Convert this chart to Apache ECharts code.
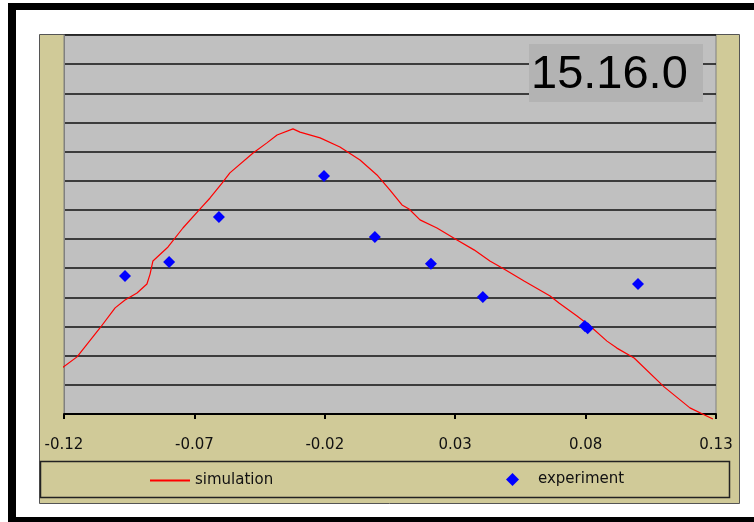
<!DOCTYPE html>
<html>
<head>
<meta charset="utf-8">
<script src="https://cdn.jsdelivr.net/npm/echarts@6/dist/echarts.min.js"></script>
<style>
html,body{margin:0;padding:0;background:#fff;overflow:hidden;}
#c{width:754px;height:522px;}
</style>
</head>
<body>
<div id="c"></div>
<script>
// x-axis tick labels
const xTicks = [-0.12, -0.07, -0.02, 0.03, 0.08, 0.13];
// simulation curve (x, y)
const simX = [-0.1223,-0.1150,-0.1062,-0.1004,-0.0966,-0.0920,-0.0882,-0.0870,-0.0859,-0.0801,-0.0744,-0.0679,-0.0640,-0.0594,-0.0564,-0.0475,-0.0422,-0.0383,-0.0322,-0.0295,-0.0218,-0.0142,-0.0065,0.0000,0.0050,0.0096,0.0123,0.0165,0.0230,0.0307,0.0372,0.0433,0.0487,0.0564,0.0664,0.0698,0.0767,0.0817,0.0882,0.0920,0.0986,0.1101,0.1200,0.1288];
const simY = [1.48,1.96,2.95,3.64,3.91,4.15,4.46,4.80,5.25,5.73,6.38,7.03,7.41,7.92,8.27,8.95,9.30,9.57,9.78,9.67,9.47,9.16,8.71,8.20,7.68,7.17,7.03,6.66,6.38,5.97,5.63,5.25,4.97,4.56,4.05,3.81,3.36,3.02,2.50,2.26,1.92,0.93,0.21,-0.17];
// experiment points (x, y)
const expX = [-0.0966,-0.0797,-0.0606,-0.0203,-0.0008,0.0207,0.0406,0.0797,0.0808,0.1001];
const expY = [4.73,5.21,6.76,8.16,6.07,5.15,4.01,3.02,2.94,4.46];
const seriesNames = ['simulation','experiment'];
const versionLabel = '15.16.0';

const chart = echarts.init(document.getElementById('c'), null, {renderer:'canvas'});
const font = '"DejaVu Sans", Verdana, sans-serif';
chart.setOption({
  animation:false,
  backgroundColor:'#ffffff',
  grid:{left:64,right:38,top:35,bottom:108,show:true,backgroundColor:'#c0c0c0',borderColor:'#808080',borderWidth:1},
  xAxis:{
    type:'value',min:-0.12,max:0.13,
    axisLine:{show:true,onZero:false,lineStyle:{color:'#000',width:2}},
    axisTick:{show:true,length:5,lineStyle:{color:'#000',width:2},customValues:xTicks},
    axisLabel:{show:true,customValues:xTicks,margin:24,color:'#111',fontFamily:font,fontSize:15,
      formatter:function(v){return (Math.round(v*100)/100).toFixed(2);}},
    splitLine:{show:false}
  },
  yAxis:{
    type:'value',min:0,max:13,interval:1,
    axisLine:{show:true,onZero:false,lineStyle:{color:'#808080',width:1}},
    axisTick:{show:false},axisLabel:{show:false},
    splitLine:{show:true,lineStyle:{color:'#111111',width:1.6}}
  },
  legend:[
    {data:[{name:seriesNames[0],icon:'rect'}],left:145,top:468,itemWidth:40,itemHeight:2,itemGap:0,
      textStyle:{fontFamily:font,fontSize:15,color:'#111'}},
    {data:[{name:seriesNames[1],icon:'diamond'}],left:501,top:467,itemWidth:13,itemHeight:13,
      textStyle:{fontFamily:font,fontSize:15,color:'#111',padding:[0,0,0,14]}}
  ],
  graphic:[
    {type:'rect',z:-20,shape:{x:8,y:3,width:746,height:7},style:{fill:'#000'},silent:true},
    {type:'rect',z:-20,shape:{x:8,y:3,width:8,height:519},style:{fill:'#000'},silent:true},
    {type:'rect',z:-20,shape:{x:8,y:517,width:746,height:5},style:{fill:'#000'},silent:true},
    {type:'rect',z:-10,shape:{x:39.5,y:34.5,width:700,height:469},style:{fill:'#d0ca98',stroke:'#555',lineWidth:1},silent:true},
    {type:'rect',z:-9,shape:{x:40.5,y:461.5,width:689,height:36},style:{fill:'#d0ca98',stroke:'#222',lineWidth:1.5},silent:true},
    {type:'rect',z:50,shape:{x:529,y:44,width:174,height:58},style:{fill:'#b3b3b3'},silent:true},
    {type:'text',z:51,style:{x:531,y:75,text:versionLabel,fill:'#000',font:'47px "Liberation Sans", Arial, sans-serif',textVerticalAlign:'middle',verticalAlign:'middle'},silent:true}
  ],
  series:[
    {name:seriesNames[0],type:'line',data:simX.map((x,i)=>[x,simY[i]]),showSymbol:false,symbol:'none',clip:false,
      lineStyle:{color:'#ff0000',width:1.2},itemStyle:{color:'#ff0000'},z:3},
    {name:seriesNames[1],type:'scatter',data:expX.map((x,i)=>[x,expY[i]]),symbol:'diamond',symbolSize:12,
      itemStyle:{color:'#0000ff',opacity:1},z:4}
  ]
});
</script>
</body>
</html>
